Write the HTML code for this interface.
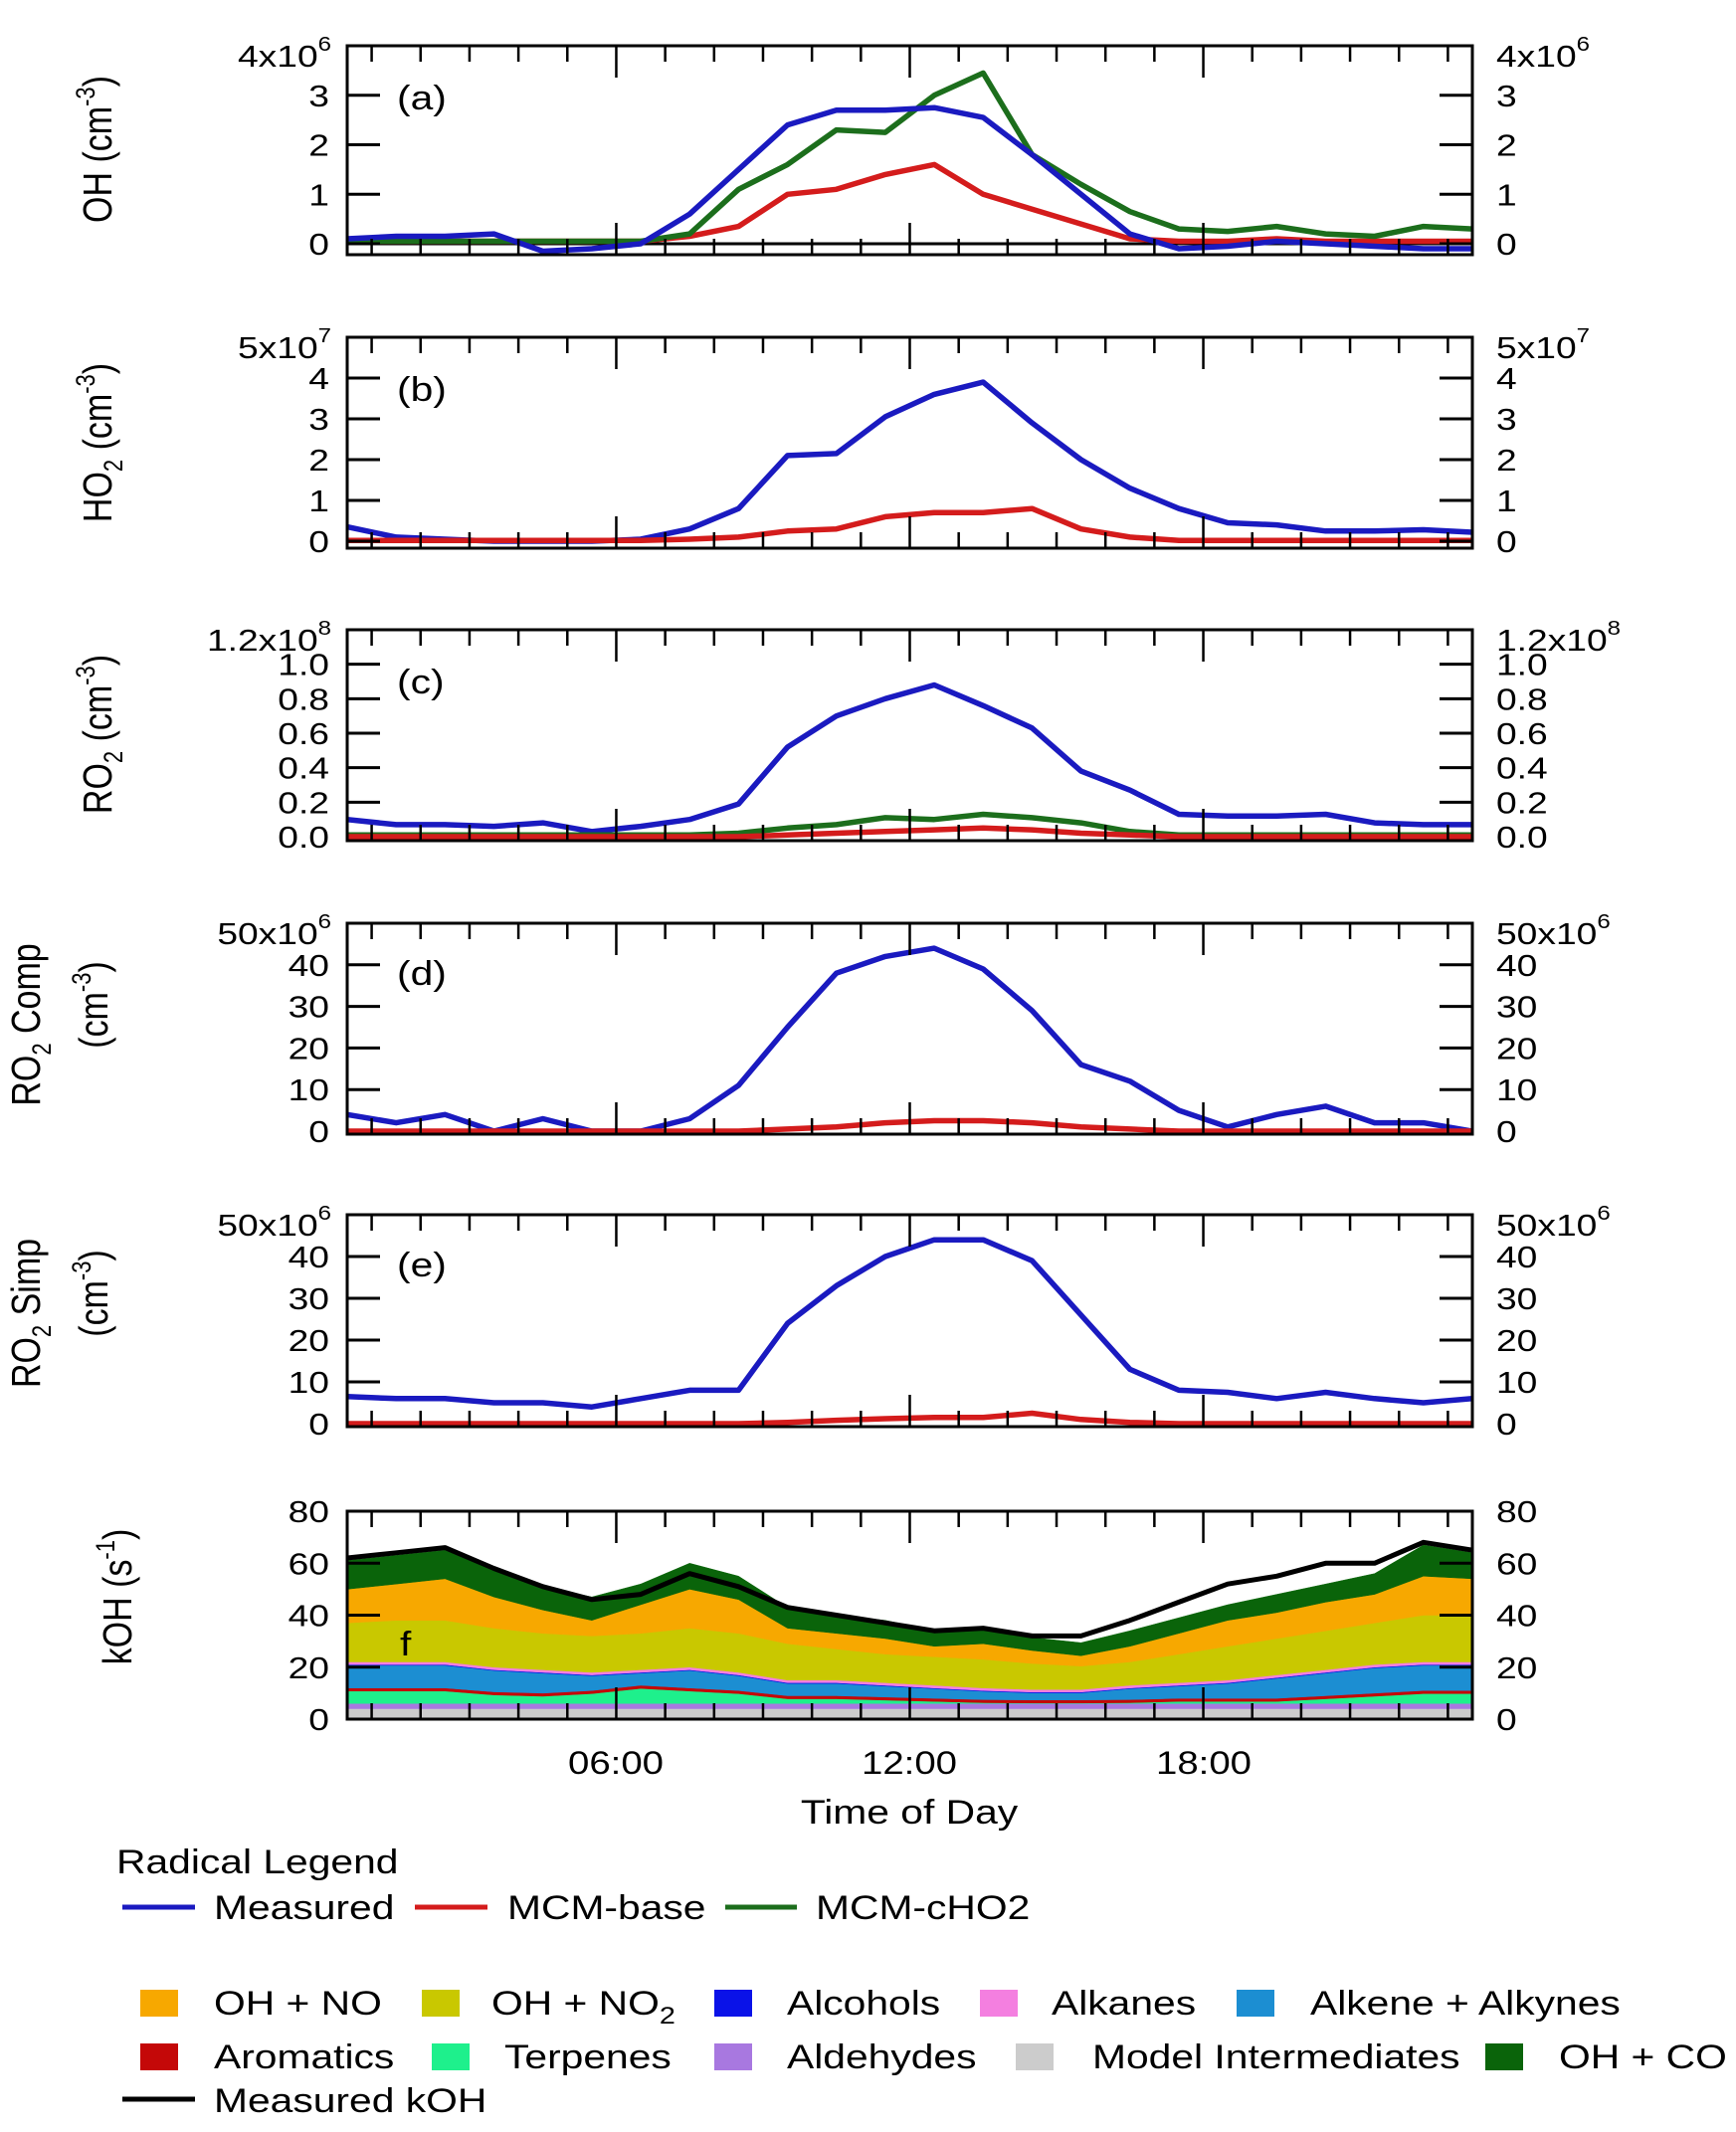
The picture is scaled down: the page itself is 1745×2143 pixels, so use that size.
<!DOCTYPE html>
<html><head><meta charset="utf-8">
<style>
html,body{margin:0;padding:0;background:#fff;}
svg{display:block;font-family:"Liberation Sans",Arial,sans-serif;}
</style></head>
<body>
<svg id="chart" width="1745" height="2143" viewBox="0 0 1745 2143" xmlns="http://www.w3.org/2000/svg">
<rect width="1745" height="2143" fill="#fff"/>
<g id="panels"></g>
<!-- y titles -->
<g font-size="34" fill="#000" text-anchor="middle">
<text transform="translate(112,150) scale(1.2,1) rotate(-90)">OH (cm<tspan dy="-14" font-size="22">-3</tspan><tspan dy="14">)</tspan></text>
<text transform="translate(112,445) scale(1.2,1) rotate(-90)">HO<tspan dy="9" font-size="22">2</tspan><tspan dy="-9"> (cm</tspan><tspan dy="-14" font-size="22">-3</tspan><tspan dy="14">)</tspan></text>
<text transform="translate(112,738) scale(1.2,1) rotate(-90)">RO<tspan dy="9" font-size="22">2</tspan><tspan dy="-9"> (cm</tspan><tspan dy="-14" font-size="22">-3</tspan><tspan dy="14">)</tspan></text>
<text transform="translate(40,1030) scale(1.2,1) rotate(-90)">RO<tspan dy="9" font-size="22">2</tspan><tspan dy="-9"> Comp</tspan></text>
<text transform="translate(108,1010) scale(1.2,1) rotate(-90)">(cm<tspan dy="-14" font-size="22">-3</tspan><tspan dy="14">)</tspan></text>
<text transform="translate(40,1320) scale(1.2,1) rotate(-90)">RO<tspan dy="9" font-size="22">2</tspan><tspan dy="-9"> Simp</tspan></text>
<text transform="translate(108,1300) scale(1.2,1) rotate(-90)">(cm<tspan dy="-14" font-size="22">-3</tspan><tspan dy="14">)</tspan></text>
<text transform="translate(132,1605) scale(1.2,1) rotate(-90)">kOH (s<tspan dy="-14" font-size="22">-1</tspan><tspan dy="14">)</tspan></text>
</g>
<!-- panel labels -->
<g font-size="34" fill="#000">
<text transform="translate(399,110) scale(1.2,1)">(a)</text>
<text transform="translate(399,403) scale(1.2,1)">(b)</text>
<text transform="translate(399,697) scale(1.2,1)">(c)</text>
<text transform="translate(399,990) scale(1.2,1)">(d)</text>
<text transform="translate(399,1283) scale(1.2,1)">(e)</text>
<text transform="translate(402,1664) scale(1.2,1)">f</text>
</g>
<!-- x labels -->
<g font-size="32" fill="#000" text-anchor="middle">
<text transform="translate(619,1783) scale(1.2,1)">06:00</text>
<text transform="translate(914,1783) scale(1.2,1)">12:00</text>
<text transform="translate(1210,1783) scale(1.2,1)">18:00</text>
<text font-size="34" transform="translate(914,1833) scale(1.2,1)">Time of Day</text>
</g>
<!-- legend -->
<g font-size="34" fill="#000">
<text transform="translate(117,1883) scale(1.2,1)">Radical Legend</text>
<line x1="123" y1="1917" x2="196" y2="1917" stroke="#1a1ac0" stroke-width="5"/>
<text transform="translate(215,1929) scale(1.2,1)">Measured</text>
<line x1="417" y1="1917" x2="490" y2="1917" stroke="#d41c1c" stroke-width="5"/>
<text transform="translate(510,1929) scale(1.2,1)">MCM-base</text>
<line x1="729" y1="1917" x2="801" y2="1917" stroke="#1c6e1c" stroke-width="5"/>
<text transform="translate(820,1929) scale(1.2,1)">MCM-cHO2</text>

<rect x="141" y="2000" width="38" height="27" fill="#f7a800"/>
<text transform="translate(215,2025) scale(1.2,1)">OH + NO</text>
<rect x="424" y="2000" width="38" height="27" fill="#c9c800"/>
<text transform="translate(494,2025) scale(1.2,1)">OH + NO<tspan dy="9" font-size="24">2</tspan></text>
<rect x="718" y="2000" width="38" height="27" fill="#0a12e8"/>
<text transform="translate(791,2025) scale(1.2,1)">Alcohols</text>
<rect x="985" y="2000" width="38" height="27" fill="#f47fe0"/>
<text transform="translate(1057,2025) scale(1.2,1)">Alkanes</text>
<rect x="1243" y="2000" width="38" height="27" fill="#1c8ed2"/>
<text transform="translate(1317,2025) scale(1.2,1)">Alkene + Alkynes</text>

<rect x="141" y="2054" width="38" height="27" fill="#c40808"/>
<text transform="translate(215,2079) scale(1.2,1)">Aromatics</text>
<rect x="434" y="2054" width="38" height="27" fill="#1ef08c"/>
<text transform="translate(507,2079) scale(1.2,1)">Terpenes</text>
<rect x="718" y="2054" width="38" height="27" fill="#a878e0"/>
<text transform="translate(791,2079) scale(1.2,1)">Aldehydes</text>
<rect x="1021" y="2054" width="38" height="27" fill="#cccccc"/>
<text transform="translate(1098,2079) scale(1.2,1)">Model Intermediates</text>
<rect x="1493" y="2054" width="38" height="27" fill="#0a640a"/>
<text transform="translate(1567,2079) scale(1.2,1)">OH + CO</text>

<line x1="123" y1="2110" x2="196" y2="2110" stroke="#000" stroke-width="5"/>
<text transform="translate(215,2123) scale(1.2,1)">Measured kOH</text>
</g>
</svg>
<script>
// ---- data ----
const hours = [0.5,1.5,2.5,3.5,4.5,5.5,6.5,7.5,8.5,9.5,10.5,11.5,12.5,13.5,14.5,15.5,16.5,17.5,18.5,19.5,20.5,21.5,22.5,23.5];
const xTickHours = [6,12,18];
// (a) OH, units 1e6
const ohMeasured = [0.1,0.15,0.15,0.2,-0.15,-0.1,0,0.6,1.5,2.4,2.7,2.7,2.75,2.55,1.8,1.0,0.2,-0.1,-0.05,0.05,0,-0.05,-0.1,-0.1];
const ohBase = [0.05,0.05,0.05,0.05,0.05,0.05,0.05,0.15,0.35,1.0,1.1,1.4,1.6,1.0,0.7,0.4,0.1,0.05,0.05,0.1,0.05,0.05,0.05,0.05];
const ohCHO2 = [0.05,0.05,0.05,0.05,0.05,0.05,0.05,0.2,1.1,1.6,2.3,2.25,3.0,3.45,1.8,1.2,0.65,0.3,0.25,0.35,0.2,0.15,0.35,0.3];
const ohTicks = [0,1,2,3];
// (b) HO2, units 1e7
const ho2Measured = [0.35,0.1,0.05,0,0,0,0.05,0.3,0.8,2.1,2.15,3.05,3.6,3.9,2.9,2.0,1.3,0.8,0.45,0.4,0.25,0.25,0.28,0.22];
const ho2Base = [0.02,0.02,0.02,0.02,0.02,0.02,0.02,0.05,0.1,0.25,0.3,0.6,0.7,0.7,0.8,0.3,0.1,0.02,0.02,0.02,0.02,0.02,0.02,0.02];
const ho2Ticks = [0,1,2,3,4];
// (c) RO2, units 1e8
const ro2Measured = [0.1,0.07,0.07,0.06,0.08,0.03,0.06,0.1,0.19,0.52,0.7,0.8,0.88,0.76,0.63,0.38,0.27,0.13,0.12,0.12,0.13,0.08,0.07,0.07];
const ro2Base = [0,0,0,0,0,0,0,0,0,0.01,0.02,0.03,0.04,0.05,0.04,0.02,0.01,0,0,0,0,0,0,0];
const ro2CHO2 = [0.01,0.01,0.01,0.01,0.01,0.01,0.01,0.01,0.02,0.05,0.07,0.11,0.1,0.13,0.11,0.08,0.03,0.01,0.01,0.01,0.01,0.01,0.01,0.01];
const ro2Ticks = [0,0.2,0.4,0.6,0.8,1.0];
// (d) RO2 comp, units 1e6
const compMeasured = [4,2,4,0,3,0,0,3,11,25,38,42,44,39,29,16,12,5,1,4,6,2,2,0];
const compBase = [0,0,0,0,0,0,0,0,0,0.5,1,2,2.5,2.5,2,1,0.5,0,0,0,0,0,0,0];
// (e) RO2 simp, units 1e6
const simpMeasured = [6.5,6,6,5,5,4,6,8,8,24,33,40,44,44,39,26,13,8,7.5,6,7.5,6,5,6];
const simpBase = [0,0,0,0,0,0,0,0,0,0.3,0.8,1.2,1.5,1.5,2.5,1,0.3,0,0,0,0,0,0,0];
const comp50Ticks = [0,10,20,30,40];
// (f) kOH stack layers (s-1), bottom to top
const modelIntermediates = [4,4,4,4,4,4,4,4,4,4,4,4,4,4,4,4,4,4,4,4,4,4,4,4];
const aldehydes = [2,2,2,2,2,2,2,2,2,2,2,2,2,2,2,2,2,2,2,2,2,2,2,2];
const terpenes = [4.8,4.8,4.8,3.3,2.8,3.8,5.8,4.8,3.8,1.8,1.8,1.3,0.8,0.3,0.2,0.2,0.3,0.8,0.8,0.8,1.8,2.8,3.8,3.8];
const aromatics = [1.2,1.2,1.2,1.2,1.2,1.2,1.2,1.2,1.2,1.2,1.2,1.2,1.2,1.2,1.2,1.2,1.2,1.2,1.2,1.2,1.2,1.2,1.2,1.2];
const alkeneAlkynes = [8.7,8.7,8.7,8.2,7.7,5.7,4.7,6.7,5.7,4.7,4.7,4.2,3.7,3.2,2.7,2.7,4.2,4.7,5.7,7.7,8.7,9.7,9.7,9.7];
const alcohols = [0.3,0.3,0.3,0.3,0.3,0.3,0.3,0.3,0.3,0.3,0.3,0.3,0.3,0.3,0.3,0.3,0.3,0.3,0.3,0.3,0.3,0.3,0.3,0.3];
const alkanes = [1,1,1,1,1,1,1,1,1,1,1,1,1,1,1,1,1,1,1,1,1,1,1,1];
const ohNO2 = [15,16,16,15,14,14,14,15,15,14,12,11,11,11,10,9,9,11,13,14,15,16,18,18];
const ohNO = [13,14,16,12,9,6,11,15,13,6,6,6,4,6,5,4,6,8,10,10,11,11,15,14];
const ohCO = [11,11,11,11,9,9,8,10,9,8,7,7,6,6,5,5,6,6,6,7,7,8,12,10];
const measuredKOH = [62,64,66,58,51,46,48,56,51,43,40,37,34,35,32,32,38,45,52,55,60,60,68,65];
const kohTicks = [0,20,40,60];

const NS = "http://www.w3.org/2000/svg";
const L = 349, R = 1480, H0 = 0.5, H1 = 23.5;
function xs(h){ return L + (h - H0) / (H1 - H0) * (R - L); }
function mk(tag, attrs, parent){
  const e = document.createElementNS(NS, tag);
  for (const k in attrs) e.setAttribute(k, attrs[k]);
  parent.appendChild(e);
  return e;
}
const root = document.getElementById('panels');
const BLUE = "#1a1ac0", RED = "#d41c1c", GREEN = "#1c6e1c";

function fmt(v, dec){ return dec ? v.toFixed(1) : String(v); }

function panel(cfg){
  const g = mk('g', {}, root);
  
  
  const ys = v => cfg.zero - v / cfg.max * (cfg.zero - cfg.top);
  const cid = 'clip-' + cfg.name;
  const cp = mk('clipPath', {id: cid}, g);
  mk('rect', {x: L, y: cfg.top, width: R - L, height: cfg.bottom - cfg.top}, cp);
  const dg = mk('g', {'clip-path': 'url(#' + cid + ')'}, g);
  if (cfg.stack) cfg.stack(dg, ys);
  if (cfg.zeroLine) {
    const zl = mk('line', {x1: L, x2: R, y1: ys(0), y2: ys(0), stroke: '#000', 'stroke-width': 3}, dg);
    
    
  }
  (cfg.series || []).forEach(s => {
    const pts = s.vals.map((v, i) => xs(hours[i]).toFixed(1) + ',' + ys(v).toFixed(1)).join(' ');
    const pl = mk('polyline', {points: pts, fill: 'none', stroke: s.color, 'stroke-width': s.w || 5.5, 'stroke-linejoin': 'round'}, dg);
    
    
  });
  const fr = mk('rect', {x: L, y: cfg.top, width: R - L, height: cfg.bottom - cfg.top, fill: 'none', stroke: '#000', 'stroke-width': 3}, g);
  
  
  for (let h = 1; h <= 23; h++) {
    const len = xTickHours.indexOf(h) >= 0 ? 32 : 16;
    const x = xs(h);
    mk('line', {x1: x, x2: x, y1: cfg.top, y2: cfg.top + len, stroke: '#000', 'stroke-width': 2.5}, g);
    mk('line', {x1: x, x2: x, y1: cfg.bottom, y2: cfg.bottom - len, stroke: '#000', 'stroke-width': 2.5}, g);
  }
  cfg.ticks.forEach(v => {
    const y = ys(v);
    if (v !== 0 || cfg.bottom - ys(0) > 4) {
      mk('line', {x1: L, x2: L + 33, y1: y, y2: y, stroke: '#000', 'stroke-width': 3}, g);
      mk('line', {x1: R, x2: R - 33, y1: y, y2: y, stroke: '#000', 'stroke-width': 3}, g);
    }
    const tl = mk('text', {transform: 'translate(331,' + (y + 11) + ') scale(1.2,1)', 'text-anchor': 'end', 'font-size': 31}, g);
    tl.textContent = fmt(v, cfg.dec);
    
    
    const tr = mk('text', {transform: 'translate(1504,' + (y + 11) + ') scale(1.2,1)', 'font-size': 31}, g);
    tr.textContent = fmt(v, cfg.dec);
    
    
  });
  if (cfg.topLabel) {
    [[333, 'end'], [1504, 'start']].forEach(([x, a]) => {
      const t = mk('text', {transform: 'translate(' + x + ',' + (cfg.top + 21) + ') scale(1.2,1)', 'text-anchor': a, 'font-size': 31}, g);
      
      
      t.appendChild(document.createTextNode(cfg.topLabel[0]));
      const sp = mk('tspan', {dy: -16, 'font-size': 20}, t);
      sp.textContent = cfg.topLabel[1];
    });
  } else {
    const y = cfg.top;
    ['left', 'right'].forEach(side => {
      const t = mk('text', {transform: 'translate(' + (side === 'left' ? 331 : 1504) + ',' + (y + 11) + ') scale(1.2,1)', 'text-anchor': side === 'left' ? 'end' : 'start', 'font-size': 31}, g);
      t.textContent = String(cfg.max);
      
      
    });
  }
}

panel({name: 'panel-a-oh', top: 46, zero: 245, bottom: 256, max: 4, ticks: ohTicks, topLabel: ['4x10', '6'], zeroLine: true,
  series: [{name: 'oh-mcm-base', vals: ohBase, color: RED}, {name: 'oh-mcm-cho2', vals: ohCHO2, color: GREEN}, {name: 'oh-measured', vals: ohMeasured, color: BLUE}]});
panel({name: 'panel-b-ho2', top: 339, zero: 544, bottom: 551, max: 5, ticks: ho2Ticks, topLabel: ['5x10', '7'],
  series: [{name: 'ho2-measured', vals: ho2Measured, color: BLUE}, {name: 'ho2-mcm-base', vals: ho2Base, color: RED}]});
panel({name: 'panel-c-ro2', top: 633, zero: 841, bottom: 845, max: 1.2, ticks: ro2Ticks, dec: true, topLabel: ['1.2x10', '8'],
  series: [{name: 'ro2-measured', vals: ro2Measured, color: BLUE}, {name: 'ro2-mcm-cho2', vals: ro2CHO2, color: GREEN}, {name: 'ro2-mcm-base', vals: ro2Base, color: RED}]});
panel({name: 'panel-d-ro2-comp', top: 928, zero: 1137, bottom: 1140, max: 50, ticks: comp50Ticks, topLabel: ['50x10', '6'],
  series: [{name: 'ro2comp-measured', vals: compMeasured, color: BLUE}, {name: 'ro2comp-mcm-base', vals: compBase, color: RED}]});
panel({name: 'panel-e-ro2-simp', top: 1221, zero: 1431, bottom: 1434, max: 50, ticks: comp50Ticks, topLabel: ['50x10', '6'],
  series: [{name: 'ro2simp-measured', vals: simpMeasured, color: BLUE}, {name: 'ro2simp-mcm-base', vals: simpBase, color: RED}]});

const layers = [
  ['model-intermediates', modelIntermediates, '#cccccc'],
  ['aldehydes', aldehydes, '#a878e0'],
  ['terpenes', terpenes, '#1ef08c'],
  ['aromatics', aromatics, '#c40808'],
  ['alkene-alkynes', alkeneAlkynes, '#1c8ed2'],
  ['alcohols', alcohols, '#0a12e8'],
  ['alkanes', alkanes, '#f47fe0'],
  ['oh-no2', ohNO2, '#c9c800'],
  ['oh-no', ohNO, '#f7a800'],
  ['oh-co', ohCO, '#0a640a']
];
panel({name: 'panel-f-koh', top: 1519, zero: 1728, bottom: 1728, max: 80, ticks: kohTicks,
  series: [{name: 'measured-koh', vals: measuredKOH, color: '#000', w: 5}],
  stack: (g, ys) => {
    let base = hours.map(() => 0);
    layers.forEach(([nm, vals, col]) => {
      const top = base.map((b, i) => b + vals[i]);
      const up = hours.map((h, i) => xs(h).toFixed(1) + ',' + ys(top[i]).toFixed(1));
      const dn = hours.map((h, i) => xs(h).toFixed(1) + ',' + ys(base[i]).toFixed(1)).reverse();
      const p = mk('polygon', {points: up.concat(dn).join(' '), fill: col, stroke: col, 'stroke-width': 0.5}, g);
      
      
      base = top;
    });
  }});
</script>
</body></html>
